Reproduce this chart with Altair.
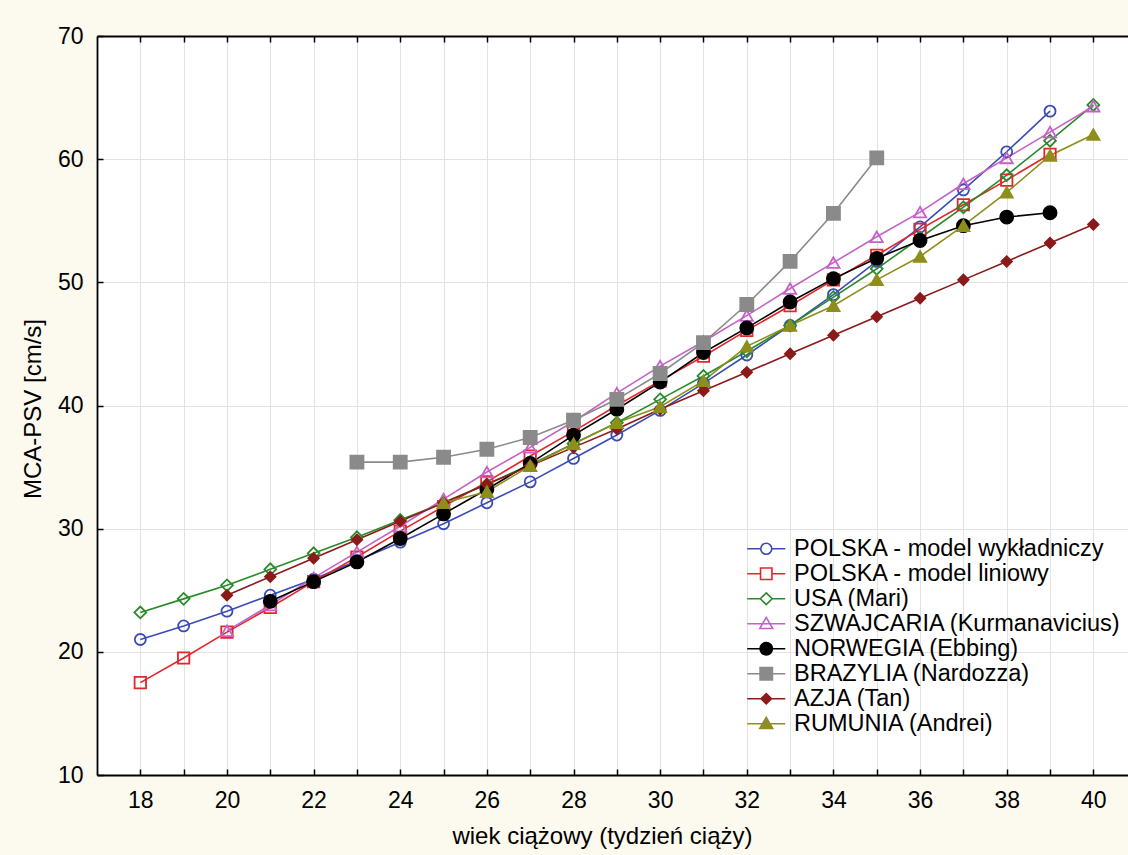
import altair as alt
import pandas as pd

# ---- data ----
names = [
    "POLSKA - model wykładniczy",
    "POLSKA - model liniowy",
    "USA (Mari)",
    "SZWAJCARIA (Kurmanavicius)",
    "NORWEGIA (Ebbing)",
    "BRAZYLIA (Nardozza)",
    "AZJA (Tan)",
    "RUMUNIA (Andrei)",
]
start_weeks = [18, 18, 18, 20, 21, 23, 20, 25]

polska_exp = [21.0, 22.1, 23.3, 24.6, 25.9, 27.4, 28.9, 30.4, 32.1, 33.8, 35.7,
              37.6, 39.6, 41.8, 44.1, 46.5, 49.0, 51.7, 54.5, 57.5, 60.6, 63.9]
polska_lin = [17.5, 19.5, 21.6, 23.6, 25.7, 27.7, 29.8, 31.8, 33.8, 35.9, 37.9,
              40.0, 42.0, 44.0, 46.1, 48.1, 50.2, 52.2, 54.3, 56.3, 58.3, 60.4]
usa = [23.2, 24.3, 25.4, 26.7, 28.0, 29.3, 30.7, 32.1, 33.6, 35.2, 36.9, 38.6,
       40.5, 42.4, 44.4, 46.5, 48.8, 51.1, 53.6, 56.1, 58.7, 61.5, 64.4]
szwajcaria = [21.7, 23.8, 26.0, 28.1, 30.2, 32.4, 34.6, 36.6, 38.7, 41.0, 43.2,
              45.2, 47.3, 49.5, 51.6, 53.7, 55.7, 58.0, 60.1, 62.2, 64.3]
norwegia = [24.1, 25.7, 27.3, 29.2, 31.2, 33.2, 35.3, 37.6, 39.7, 41.9, 44.3,
            46.3, 48.4, 50.3, 51.95, 53.4, 54.6, 55.3, 55.65]
brazylia = [35.4, 35.4, 35.8, 36.45, 37.4, 38.8, 40.5, 42.6, 45.1, 48.2, 51.7,
            55.6, 60.1]
azja = [24.6, 26.1, 27.6, 29.1, 30.6, 32.1, 33.6, 35.1, 36.6, 38.1, 39.7, 41.2,
        42.7, 44.2, 45.7, 47.2, 48.7, 50.2, 51.7, 53.2, 54.7]
rumunia = [32.1, 33.0, 35.1, 36.9, 38.6, 39.9, 42.0, 44.8, 46.5, 48.1, 50.2,
           52.1, 54.6, 57.3, 60.3, 62.0]

series_values = [polska_exp, polska_lin, usa, szwajcaria, norwegia, brazylia, azja, rumunia]

x_tick_values = list(range(18, 41))
y_tick_values = [10, 20, 30, 40, 50, 60, 70]

# ---- styles ----
colors = ["#3a4bb5", "#e3262b", "#2a8a2a", "#c561c9", "#000000", "#8a8a8a", "#8b1a1a", "#8e8e1c"]
shapes = ["circle", "square", "diamond", "triangle-up", "circle", "square", "diamond", "triangle-up"]
fills = ["transparent", "transparent", "transparent", "transparent",
         "#000000", "#8a8a8a", "#8b1a1a", "#8e8e1c"]
sizes = [121, 130, 140, 150, 170, 170, 110, 150]

legend_paths = [
    "M-2,0H-0.58M0.58,0H2M-0.58,0A0.58,0.58 0 1,0 0.58,0A0.58,0.58 0 1,0 -0.58,0Z",
    "M-2,0H-0.6M0.6,0H2M-0.6,-0.6H0.6V0.6H-0.6Z",
    "M-2,0H-0.62M0.62,0H2M0,-0.62L0.62,0L0,0.62L-0.62,0Z",
    "M-2,0H2M0,-0.68L0.68,0.5H-0.68Z",
    "M-2,0H2M-0.65,0A0.65,0.65 0 1,0 0.65,0A0.65,0.65 0 1,0 -0.65,0Z",
    "M-2,0H2M-0.65,-0.65H0.65V0.65H-0.65Z",
    "M-2,0H2M0,-0.55L0.55,0L0,0.55L-0.55,0Z",
    "M-2,0H2M0,-0.68L0.68,0.5H-0.68Z",
]

rows = []
for name, start, vals in zip(names, start_weeks, series_values):
    for i, v in enumerate(vals):
        rows.append({"series": name, "week": start + i, "value": v})
df = pd.DataFrame(rows)

FONT = "Liberation Sans"
W, H = 1031, 739

xscale = alt.Scale(domain=[17.0, 40.8], nice=False, zero=False)
yscale = alt.Scale(domain=[10, 70], nice=False, zero=False)
cscale = alt.Scale(domain=names, range=colors)

y_axis_left = alt.Axis(
    values=y_tick_values, orient="left", title="MCA-PSV [cm/s]", grid=True,
    gridColor="#e2e2e2", gridWidth=1, domainColor="#000000", domainWidth=1.8,
    ticks=False, labelPadding=14, labelFontSize=23, labelFont=FONT,
    labelColor="#000000", titleFont=FONT, titleFontSize=24, titleFontWeight="normal",
    titleColor="#000000", titleAngle=270, titleX=-64, titleY=H / 2 + 3,
    titleAlign="center", titleBaseline="middle",
)
x_axis_bottom = alt.Axis(
    values=x_tick_values, orient="bottom",
    labelExpr="datum.value % 2 == 0 ? datum.label : ''",
    title="wiek ciążowy (tydzień ciąży)", grid=True, gridColor="#e2e2e2", gridWidth=1,
    domainColor="#000000", domainWidth=1.8, ticks=False, labelPadding=14,
    labelFontSize=23, labelFont=FONT, labelColor="#000000", labelFlush=False,
    titleFont=FONT, titleFontSize=24, titleFontWeight="normal", titleColor="#000000",
    titleX=505, titleY=61, titleAlign="center", titleBaseline="middle",
)
x_ticks_bottom = alt.Axis(
    values=x_tick_values, orient="top", offset=-H, labels=False, title=None,
    grid=False, domain=False, tickColor="#000000", tickWidth=1.5, tickSize=6,
)
y_ticks_left = alt.Axis(
    values=y_tick_values, orient="right", offset=-W, labels=False, title=None,
    grid=False, domain=False, tickColor="#000000", tickWidth=1.5, tickSize=6,
)
x_ticks_top = alt.Axis(
    values=x_tick_values, orient="bottom", offset=-H, labels=False, title=None,
    grid=False, domain=True, domainColor="#000000", domainWidth=1.8,
    tickColor="#000000", tickWidth=1.5, tickSize=6,
)

lines = alt.Chart(df).mark_line(strokeWidth=1.6).encode(
    x=alt.X("week:Q", scale=xscale, axis=x_axis_bottom),
    y=alt.Y("value:Q", scale=yscale, axis=y_axis_left),
    color=alt.Color("series:N", scale=cscale, legend=None),
)

points = alt.Chart(df).mark_point(filled=False, strokeWidth=1.8, opacity=1).encode(
    x=alt.X("week:Q", scale=xscale, axis=x_ticks_bottom),
    y=alt.Y("value:Q", scale=yscale, axis=y_ticks_left),
    color=alt.Color("series:N", scale=cscale, legend=None),
    shape=alt.Shape("series:N", scale=alt.Scale(domain=names, range=shapes), legend=None),
    fill=alt.Fill("series:N", scale=alt.Scale(domain=names, range=fills), legend=None),
    size=alt.Size("series:N", scale=alt.Scale(domain=names, range=sizes, type="ordinal"), legend=None),
)

legend = alt.Legend(
    title=None, orient="none", legendX=657.5, legendY=501, padding=0,
    labelFont=FONT, labelFontSize=23.5, labelColor="#000000", labelOffset=16,
    symbolSize=361, symbolStrokeWidth=1.6, symbolOpacity=1, rowPadding=0,
    labelLimit=500,
)

# layer that only carries the legend (line + marker symbols) and the top axis;
# its points sit outside the clipped plot area
legend_layer = alt.Chart(df).transform_calculate(
    lg="datum.series", off="-100"
).mark_point(filled=False, strokeWidth=1.6, size=361, opacity=1, clip=True).encode(
    x=alt.X("off:Q", scale=xscale, axis=x_ticks_top),
    y=alt.Y("value:Q", scale=yscale, axis=None),
    color=alt.Color("lg:N", scale=alt.Scale(domain=names, range=colors), legend=legend),
    shape=alt.Shape("lg:N", scale=alt.Scale(domain=names, range=legend_paths), legend=legend),
    fill=alt.Fill("lg:N", scale=alt.Scale(domain=names, range=fills), legend=legend),
)

chart = alt.layer(lines, points, legend_layer).resolve_axis(
    x="independent", y="independent"
).resolve_scale(color="independent", shape="independent", fill="independent").properties(
    width=W, height=H, autosize="none",
    padding={"left": 97, "top": 36, "right": 0, "bottom": 80},
    background="#fcf9ee",
).configure_view(stroke=None, fill="#ffffff")

chart.save("out.html", embed_options={"renderer": "svg", "actions": False})
